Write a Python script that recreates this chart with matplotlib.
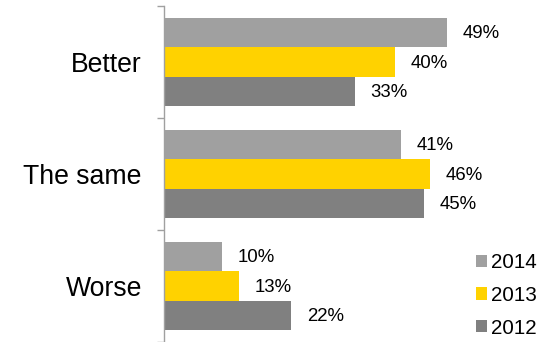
import matplotlib
matplotlib.use("Agg")
import matplotlib.pyplot as plt
import numpy as np

plt.rcParams['font.family'] = ['Liberation Sans', 'DejaVu Sans']

categories = ["Worse", "The same", "Better"]
series_names = ["2014", "2013", "2012"]
values_2014 = [10, 41, 49]
values_2013 = [13, 46, 40]
values_2012 = [22, 45, 33]
colors = ["#A0A0A0", "#FFD200", "#808080"]

fig = plt.figure(figsize=(5.54, 3.42), dpi=100)
ax = fig.add_axes([164/554, 0.0, 1 - 164/554, 336/342])

y = np.arange(len(categories))
h = 0.263
offsets = [h, 0, -h]
series = [values_2014, values_2013, values_2012]
for name, vals, off, c in zip(series_names, series, offsets, colors):
    bars = ax.barh(y + off, vals, height=h, color=c, label=name, linewidth=0)
    for b, v in zip(bars, vals):
        ax.annotate(f"{v}%", xy=(b.get_width(), b.get_y() + b.get_height()/2),
                    xytext=(11.5, -1), textcoords="offset points",
                    va="center", ha="left", fontsize=13.4, color="#000000")

ax.set_xlim(0, 389/5.76)
ax.set_ylim(-0.5, 2.5)

for s in ["top", "right", "bottom"]:
    ax.spines[s].set_visible(False)
ax.spines["left"].set_color("#A0A0A0")
ax.spines["left"].set_linewidth(1.0)
ax.set_xticks([])

ax.set_yticks([-0.5, 0.5, 1.5, 2.5])
ax.set_yticklabels([])
ax.tick_params(axis="y", which="major", direction="out", length=5, width=1.0, color="#A0A0A0")
ax.set_yticks(y, minor=True)
ax.set_yticklabels(categories, minor=True, fontsize=19.2)
ax.tick_params(axis="y", which="minor", length=0, pad=16)

leg = ax.legend(loc="upper left", bbox_to_anchor=(476/554, 1 - 253/342),
                bbox_transform=fig.transFigure, frameon=False, fontsize=14.9,
                handlelength=0.52, handleheight=0.52, handletextpad=0.2,
                labelspacing=0.67, borderpad=0, borderaxespad=0)

fig.savefig("out.png", dpi=100)
